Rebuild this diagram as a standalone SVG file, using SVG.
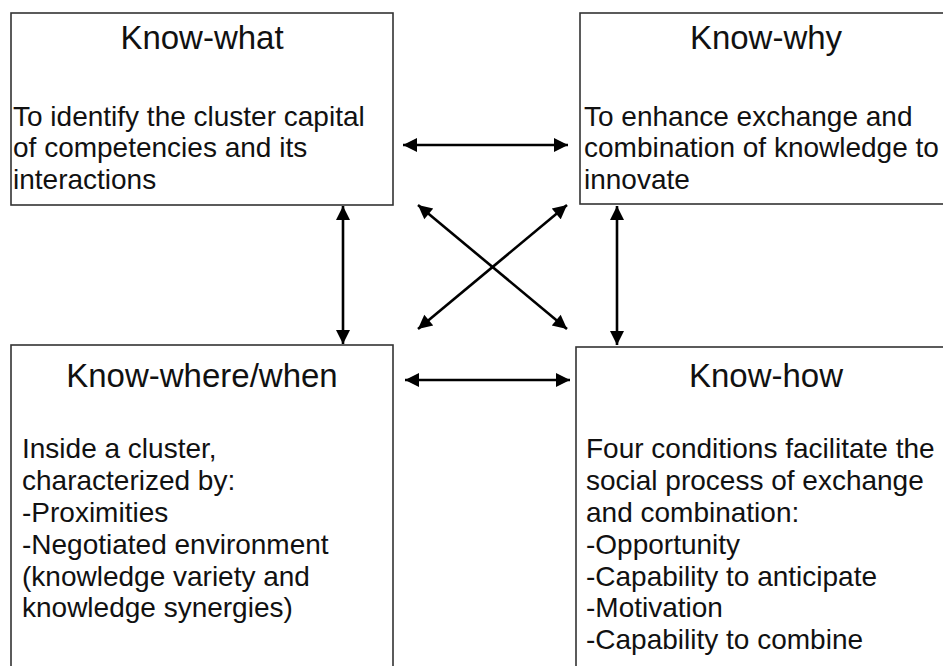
<svg xmlns="http://www.w3.org/2000/svg" width="943" height="666" viewBox="0 0 943 666">
  <style>
    .box { fill: #ffffff; stroke: #333333; stroke-width: 1.6; }
    .title { font-family: "Liberation Sans", Arial, sans-serif; font-size: 33px; fill: #111111; text-anchor: middle; }
    .body { font-family: "Liberation Sans", Arial, sans-serif; font-size: 28px; fill: #111111; }
    .conn { stroke: #000000; stroke-width: 2.6; fill: none; marker-start: url(#ah); marker-end: url(#ah); }
  </style>
  <defs>
    <marker id="ah" viewBox="0 0 10 10" refX="10" refY="5" markerUnits="userSpaceOnUse" markerWidth="16" markerHeight="14" orient="auto-start-reverse">
      <path d="M0,0 L10,5 L0,10 z" fill="#000000"/>
    </marker>
  </defs>
  <rect width="943" height="666" fill="#ffffff"/>

  <g id="know-what">
    <rect class="box" x="11" y="13" width="382" height="192"/>
    <text class="title" x="202" y="49">Know-what</text>
    <text class="body" x="13" y="126">To identify the cluster capital</text>
    <text class="body" x="13" y="157">of competencies and its</text>
    <text class="body" x="13" y="189">interactions</text>
  </g>

  <g id="know-why">
    <rect class="box" x="580" y="13" width="380" height="191"/>
    <text class="title" x="766" y="49">Know-why</text>
    <text class="body" x="584" y="126">To enhance exchange and</text>
    <text class="body" x="584" y="157">combination of knowledge to</text>
    <text class="body" x="584" y="189">innovate</text>
  </g>

  <g id="know-where-when">
    <rect class="box" x="11" y="345" width="382" height="340"/>
    <text class="title" x="202" y="387">Know-where/when</text>
    <text class="body" x="22" y="458">Inside a cluster,</text>
    <text class="body" x="22" y="490">characterized by:</text>
    <text class="body" x="22" y="522">-Proximities</text>
    <text class="body" x="22" y="554">-Negotiated environment</text>
    <text class="body" x="22" y="586">(knowledge variety and</text>
    <text class="body" x="22" y="617">knowledge synergies)</text>
  </g>

  <g id="know-how">
    <rect class="box" x="576" y="347" width="384" height="340"/>
    <text class="title" x="766" y="387">Know-how</text>
    <text class="body" x="586" y="458">Four conditions facilitate the</text>
    <text class="body" x="586" y="490">social process of exchange</text>
    <text class="body" x="586" y="522">and combination:</text>
    <text class="body" x="586" y="554">-Opportunity</text>
    <text class="body" x="586" y="586">-Capability to anticipate</text>
    <text class="body" x="586" y="617">-Motivation</text>
    <text class="body" x="586" y="649">-Capability to combine</text>
  </g>

  <g id="connectors">
    <line class="conn" x1="403" y1="145" x2="568" y2="145"/>
    <line class="conn" x1="405" y1="380" x2="570" y2="380"/>
    <line class="conn" x1="343" y1="206" x2="343" y2="344"/>
    <line class="conn" x1="617" y1="206" x2="617" y2="345"/>
    <line class="conn" x1="418" y1="205" x2="567" y2="329"/>
    <line class="conn" x1="567" y1="205" x2="418" y2="329"/>
  </g>
</svg>
